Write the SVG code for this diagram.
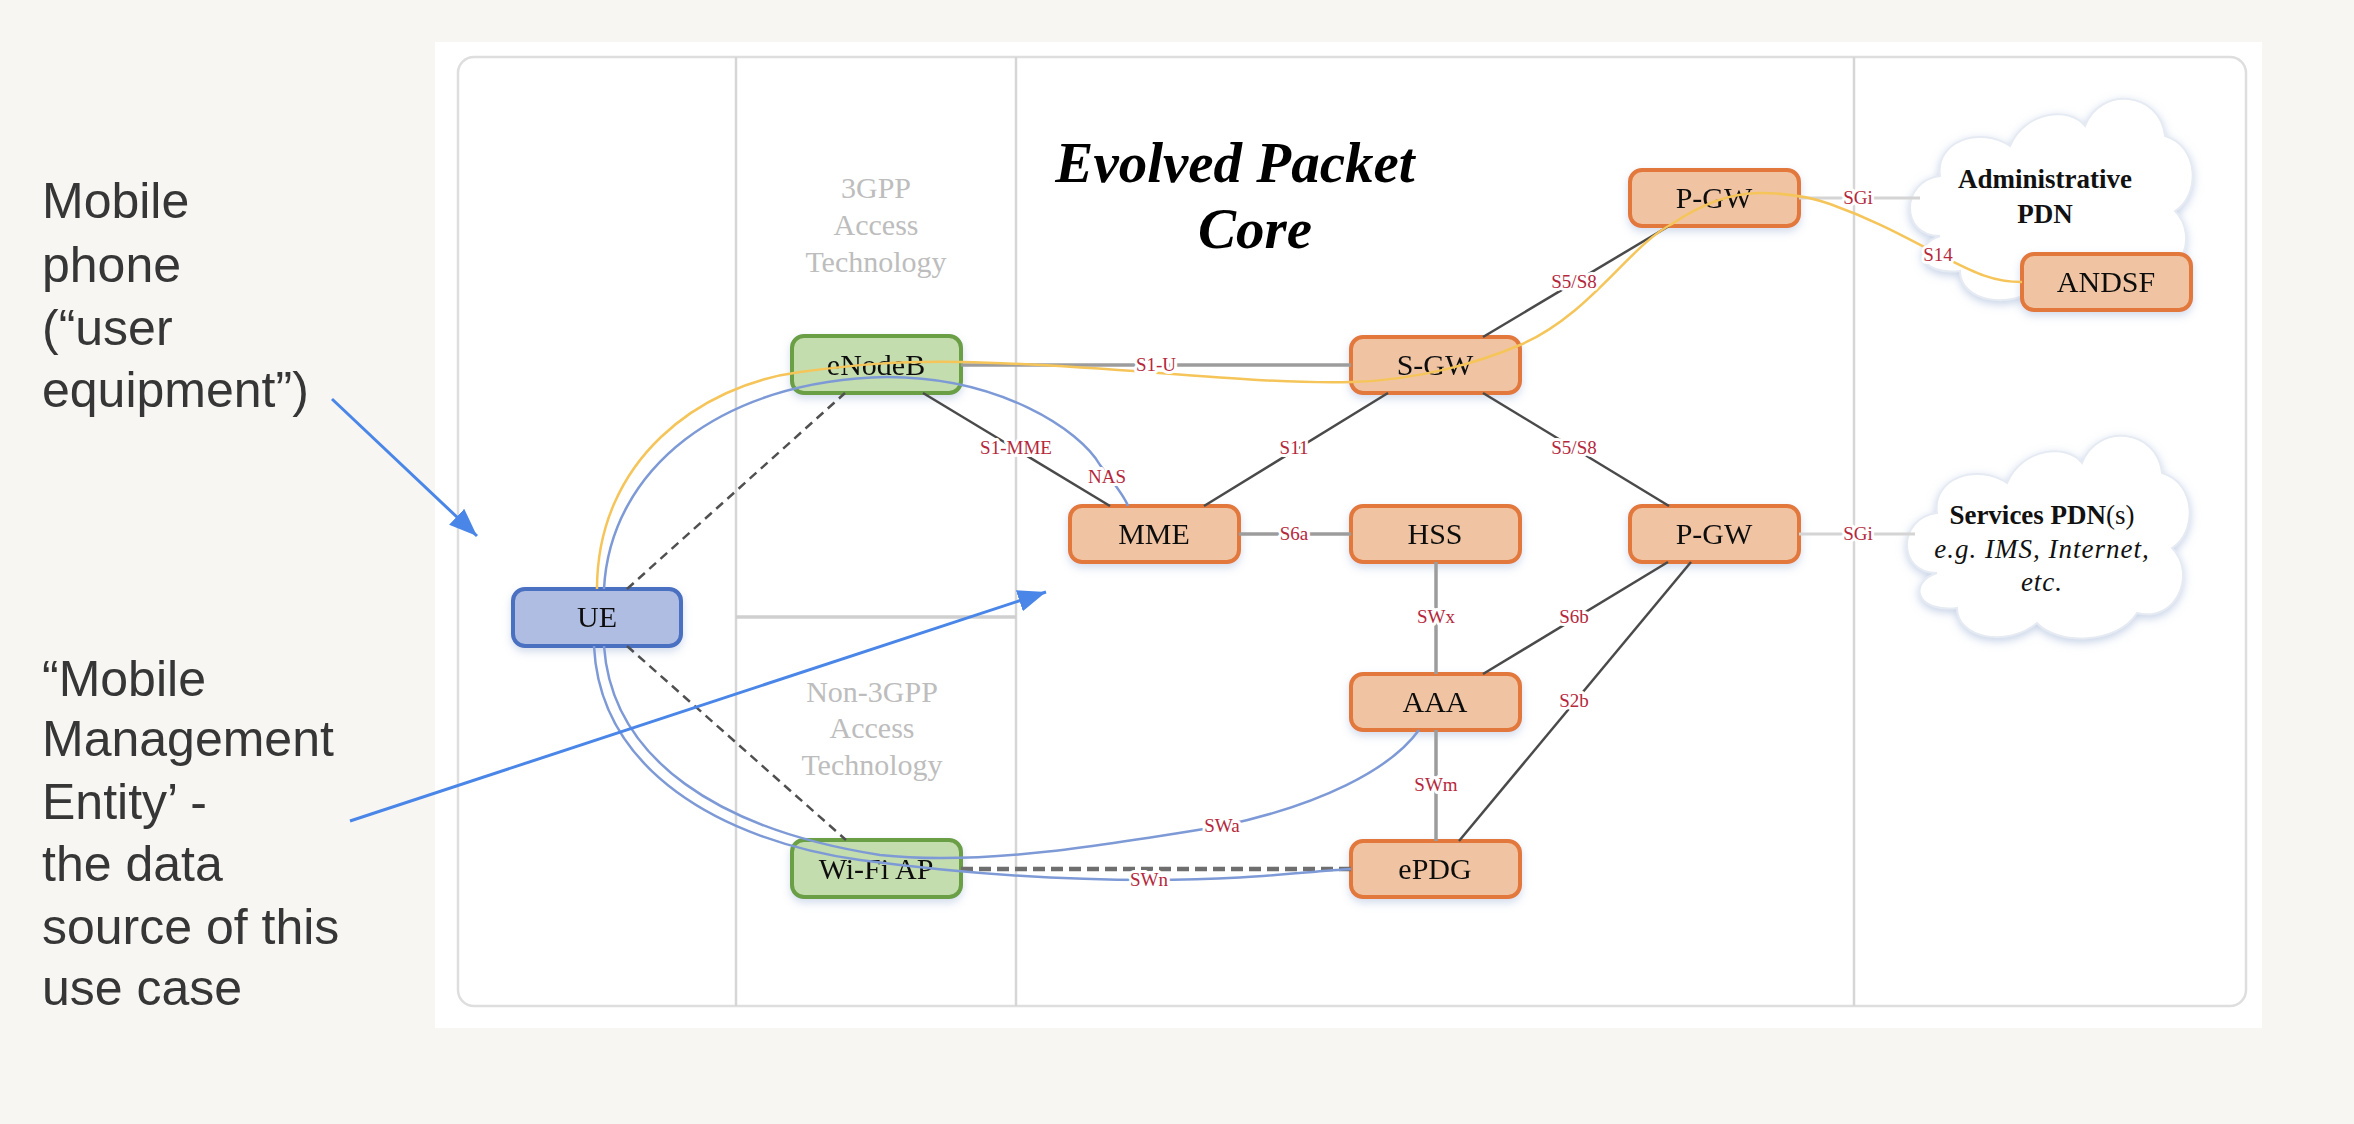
<svg xmlns="http://www.w3.org/2000/svg" width="2354" height="1124" viewBox="0 0 2354 1124">
<defs>
<style>
.ann{font-family:"Liberation Sans","Noto Sans",sans-serif;font-size:50px;fill:#363636}
.node rect{stroke-width:4}
.orange rect{fill:#f0c4a2;stroke:#e2783a}
.green rect{fill:#c4ddae;stroke:#6a9f44}
.blue rect{fill:#aebde1;stroke:#4a6fc1}
.nt{font-family:"Liberation Serif","Times New Roman",serif;font-size:30px;fill:#111;text-anchor:middle}
.gray{font-family:"Liberation Serif","Times New Roman",serif;font-size:30px;fill:#bdbdbd;text-anchor:middle}
.title{font-family:"Liberation Serif","Times New Roman",serif;font-size:57px;font-weight:bold;font-style:italic;fill:#000;text-anchor:middle}
.lbl{font-family:"Liberation Serif","Times New Roman",serif;font-size:19px;fill:#b5283c;text-anchor:middle;stroke:#fff;stroke-width:6px;paint-order:stroke;stroke-linejoin:round}
.dark{stroke:#4a4a4a;stroke-width:2.5;fill:none}
.mid{stroke:#9c9c9c;stroke-width:3.5;fill:none}
.light{stroke:#d4d4d4;stroke-width:3;fill:none}
.ycurve{stroke:#f5c55a;stroke-width:2.5;fill:none}
.bcurve{stroke:#7e9ad6;stroke-width:2.5;fill:none}
.dash{stroke:#505050;stroke-width:2.5;stroke-dasharray:9 6;fill:none}
.dashb{stroke:#6e6e6e;stroke-width:4.5;stroke-dasharray:12 6;fill:none}
.sep{stroke:#d6d6d6;stroke-width:2.5;fill:none}
.cloud{fill:#fff;stroke:#e6ebf3;stroke-width:2}
.ctext{font-family:"Liberation Serif","Times New Roman",serif;font-size:27px;fill:#111;text-anchor:middle}
.arr{stroke:#4a86e8;stroke-width:3;fill:none}
</style>
<filter id="sh" x="-20%" y="-20%" width="140%" height="160%">
<feDropShadow dx="0" dy="4" stdDeviation="4" flood-color="#9fb3d6" flood-opacity="0.45"/>
</filter>
<filter id="csh" x="-20%" y="-20%" width="140%" height="140%">
<feDropShadow dx="0" dy="3" stdDeviation="5" flood-color="#9fb3d6" flood-opacity="0.6"/>
</filter>
<marker id="ah" markerUnits="userSpaceOnUse" markerWidth="30" markerHeight="24" refX="28" refY="11" orient="auto">
<path d="M0,0 L28,11 L0,22 Z" fill="#4a86e8"/>
</marker>
<path id="cloudshape" d="M40 150 C0 150 0 95 40 90 C35 55 80 40 110 60 C125 25 170 20 185 40 C200 0 260 5 265 50 C300 60 300 110 275 125 C300 150 280 200 240 190 C220 222 160 222 140 200 C110 225 60 215 60 185 C20 190 10 160 40 150 Z"/>
</defs>

<rect width="2354" height="1124" fill="#f7f6f3"/>
<rect x="435" y="42" width="1827" height="986" fill="#ffffff"/>
<rect x="458" y="57" width="1788" height="949" rx="16" fill="none" stroke="#dedede" stroke-width="2.5"/>

<g id="separators">
<line class="sep" x1="736" y1="57" x2="736" y2="1006"/>
<line class="sep" x1="1016" y1="57" x2="1016" y2="1006"/>
<line class="sep" x1="1854" y1="57" x2="1854" y2="1006"/>
<line x1="736" y1="617" x2="1016" y2="617" stroke="#cfcfcf" stroke-width="3.5"/>
</g>

<g id="zone-labels">
<text class="title" x="1235" y="182">Evolved Packet</text>
<text class="title" x="1255" y="248">Core</text>
<text class="gray" x="876" y="198">3GPP</text>
<text class="gray" x="876" y="235">Access</text>
<text class="gray" x="876" y="272">Technology</text>
<text class="gray" x="872" y="702">Non-3GPP</text>
<text class="gray" x="872" y="738">Access</text>
<text class="gray" x="872" y="775">Technology</text>
</g>

<g id="cloud-admin">
<use href="#cloudshape" class="cloud" filter="url(#csh)" transform="translate(1900 86)"/>
<text class="ctext" x="2045" y="188" font-weight="bold">Administrative</text>
<text class="ctext" x="2045" y="223" font-weight="bold">PDN</text>
</g>
<g id="cloud-services">
<use href="#cloudshape" class="cloud" filter="url(#csh)" transform="translate(1897 423)"/>
<text class="ctext" x="2042" y="524"><tspan font-weight="bold">Services PDN</tspan>(s)</text>
<text class="ctext" x="2042" y="558" font-style="italic" letter-spacing="1">e.g. IMS, Internet,</text>
<text class="ctext" x="2042" y="591" font-style="italic" letter-spacing="1">etc.</text>
</g>

<g id="node-UE" class="node blue" filter="url(#sh)"><rect x="513" y="589" width="168" height="57" rx="12"/><text class="nt" x="597" y="627">UE</text></g>
<g id="node-eNodeB" class="node green" filter="url(#sh)"><rect x="792" y="336" width="169" height="57" rx="12"/><text class="nt" x="876" y="375">eNodeB</text></g>
<g id="node-WiFiAP" class="node green" filter="url(#sh)"><rect x="792" y="840" width="169" height="57" rx="12"/><text class="nt" x="876" y="879">Wi-Fi AP</text></g>
<g id="node-MME" class="node orange" filter="url(#sh)"><rect x="1070" y="506" width="169" height="56" rx="12"/><text class="nt" x="1154" y="544">MME</text></g>
<g id="node-HSS" class="node orange" filter="url(#sh)"><rect x="1351" y="506" width="169" height="56" rx="12"/><text class="nt" x="1435" y="544">HSS</text></g>
<g id="node-SGW" class="node orange" filter="url(#sh)"><rect x="1351" y="337" width="169" height="56" rx="12"/><text class="nt" x="1435" y="375">S-GW</text></g>
<g id="node-PGW1" class="node orange" filter="url(#sh)"><rect x="1630" y="170" width="169" height="56" rx="12"/><text class="nt" x="1714" y="208">P-GW</text></g>
<g id="node-PGW2" class="node orange" filter="url(#sh)"><rect x="1630" y="506" width="169" height="56" rx="12"/><text class="nt" x="1714" y="544">P-GW</text></g>
<g id="node-AAA" class="node orange" filter="url(#sh)"><rect x="1351" y="674" width="169" height="56" rx="12"/><text class="nt" x="1435" y="712">AAA</text></g>
<g id="node-ePDG" class="node orange" filter="url(#sh)"><rect x="1351" y="841" width="169" height="56" rx="12"/><text class="nt" x="1435" y="879">ePDG</text></g>
<g id="node-ANDSF" class="node orange" filter="url(#sh)"><rect x="2022" y="254" width="169" height="56" rx="12"/><text class="nt" x="2106" y="292">ANDSF</text></g>

<g id="connectors">
<line class="mid" x1="961" y1="365" x2="1351" y2="365"/>
<line class="dark" x1="923" y1="393" x2="1110" y2="506"/>
<line class="dark" x1="1388" y1="393" x2="1204" y2="506"/>
<line class="mid" x1="1239" y1="534" x2="1351" y2="534"/>
<line class="dark" x1="1483" y1="337" x2="1669" y2="226"/>
<line class="dark" x1="1483" y1="393" x2="1669" y2="506"/>
<line class="light" x1="1799" y1="198" x2="1920" y2="198"/>
<line class="light" x1="1799" y1="534" x2="1915" y2="534"/>
<line class="mid" x1="1436" y1="562" x2="1436" y2="674"/>
<line class="mid" x1="1436" y1="730" x2="1436" y2="841"/>
<line class="dark" x1="1668" y1="562" x2="1483" y2="674"/>
<line class="dark" x1="1691" y1="562" x2="1459" y2="841"/>
<line class="dash" x1="627" y1="589" x2="845" y2="393"/>
<line class="dash" x1="627" y1="646" x2="846" y2="840"/>
<line class="dashb" x1="961" y1="869" x2="1351" y2="869"/>
<path class="ycurve" d="M597 589 C597 460 700 385 800 372 C860 364 900 361 961 362 C1100 364 1250 385 1352 382 C1420 380 1480 362 1520 345 C1590 315 1630 245 1672 224 C1700 205 1730 193 1760 193 C1790 193 1810 197 1830 204 C1880 222 1910 240 1940 255 C1970 270 1990 282 2022 282"/>
<path class="bcurve" d="M604 589 C610 470 720 380 887 377 C1000 377 1080 430 1100 465 C1115 485 1124 495 1128 506"/>
<path class="bcurve" d="M594 646 C600 770 720 840 860 860 C950 872 1050 880 1150 880 C1250 880 1300 872 1351 869"/>
<path class="bcurve" d="M604 646 C612 760 720 830 880 855 C980 866 1100 846 1222 826 C1320 805 1390 770 1419 730"/>
<text class="lbl" x="1156" y="371">S1-U</text>
<text class="lbl" x="1016" y="454">S1-MME</text>
<text class="lbl" x="1107" y="483">NAS</text>
<text class="lbl" x="1294" y="454">S11</text>
<text class="lbl" x="1294" y="540">S6a</text>
<text class="lbl" x="1574" y="288">S5/S8</text>
<text class="lbl" x="1574" y="454">S5/S8</text>
<text class="lbl" x="1858" y="204">SGi</text>
<text class="lbl" x="1858" y="540">SGi</text>
<text class="lbl" x="1938" y="261">S14</text>
<text class="lbl" x="1436" y="623">SWx</text>
<text class="lbl" x="1436" y="791">SWm</text>
<text class="lbl" x="1574" y="623">S6b</text>
<text class="lbl" x="1574" y="707">S2b</text>
<text class="lbl" x="1222" y="832">SWa</text>
<text class="lbl" x="1149" y="886">SWn</text>
</g>

<g id="annotation-ue">
<text class="ann" x="42" y="218">Mobile</text>
<text class="ann" x="42" y="282">phone</text>
<text class="ann" x="42" y="345">(“user</text>
<text class="ann" x="42" y="407">equipment”)</text>
<line class="arr" x1="332" y1="399" x2="477" y2="536" marker-end="url(#ah)"/>
</g>
<g id="annotation-mme">
<text class="ann" x="42" y="696">“Mobile</text>
<text class="ann" x="42" y="756">Management</text>
<text class="ann" x="42" y="819">Entity’ -</text>
<text class="ann" x="42" y="881">the data</text>
<text class="ann" x="42" y="944">source of this</text>
<text class="ann" x="42" y="1005">use case</text>
<line class="arr" x1="350" y1="821" x2="1046" y2="592" marker-end="url(#ah)"/>
</g>
</svg>
